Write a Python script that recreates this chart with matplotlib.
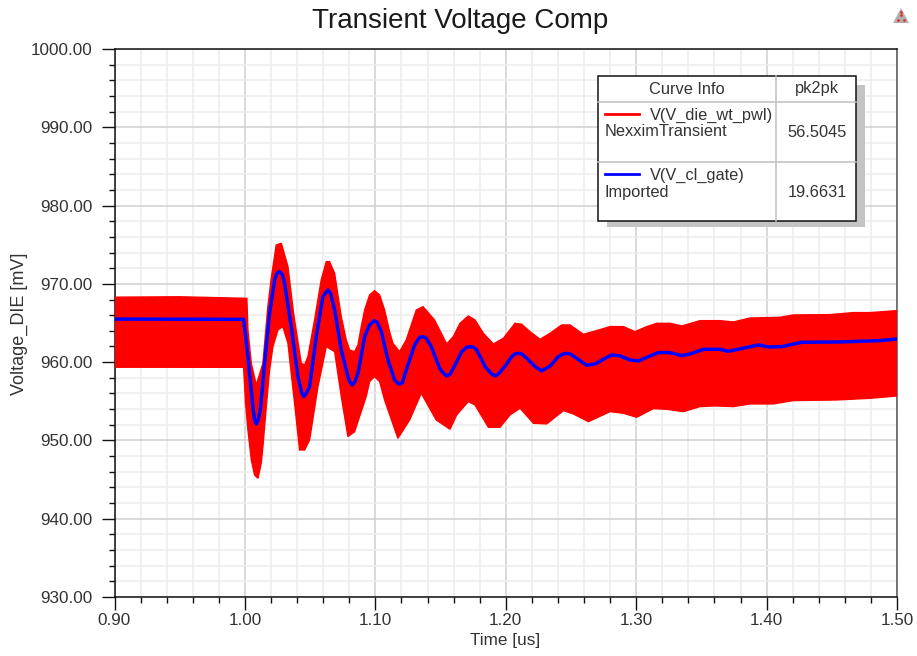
import matplotlib
matplotlib.use("Agg")
import matplotlib.pyplot as plt
from matplotlib.patches import Polygon, Rectangle
from matplotlib.ticker import MultipleLocator, FormatStrFormatter

plt.rcParams['font.family'] = ['Liberation Sans', 'DejaVu Sans']

TEXT = '#333333'

# red curve envelope
upper_t = [0.9, 0.95, 1.0015, 1.0023, 1.0049, 1.0087, 1.0138, 1.0176, 1.0202, 1.024, 1.0279, 1.033,
           1.0373, 1.0432, 1.0458, 1.0483, 1.0534, 1.0585, 1.0624, 1.0649, 1.0688, 1.0713, 1.0739, 1.0777,
           1.0803, 1.0841, 1.0867, 1.0892, 1.0918, 1.0956, 1.0994, 1.1033, 1.1071, 1.1109, 1.1135, 1.1186,
           1.1237, 1.1314, 1.1365, 1.1454, 1.1547, 1.1598, 1.1649, 1.1713, 1.1764, 1.1828, 1.1905, 1.1982,
           1.2071, 1.2122, 1.2186, 1.2263, 1.234, 1.2429, 1.2493, 1.2595, 1.2697, 1.28, 1.2902, 1.2991,
           1.3081, 1.3158, 1.326, 1.3349, 1.349, 1.3643, 1.3746, 1.3873, 1.4104, 1.4206, 1.4487, 1.4666,
           1.4794, 1.5]
upper_v = [968.3, 968.35, 968.15, 964.11, 959.85, 957.08, 959.85, 967.09, 970.71, 974.96, 975.18, 972.2,
           966.24, 959.85, 959.64, 960.7, 965.39, 970.49, 972.84, 972.84, 971.35, 968.58, 965.81, 962.83,
           961.55, 961.34, 962.19, 964.53, 966.66, 968.58, 969.13, 968.58, 966.66, 963.9, 962.41, 961.34,
           962.83, 966.66, 967.09, 965.39, 962.32, 963.26, 964.96, 965.9, 965.39, 963.69, 962.32, 963.05,
           964.96, 964.84, 963.9, 962.92, 963.69, 964.75, 964.75, 963.56, 964.03, 964.54, 964.54, 963.9,
           964.54, 964.96, 964.96, 964.62, 965.3, 965.3, 965.13, 965.64, 965.73, 966.03, 966.07, 966.33,
           966.33, 966.58]
lower_t = [0.9, 0.999, 1.0005, 1.0023, 1.0049, 1.0074, 1.01, 1.0125, 1.0138, 1.0164, 1.0189, 1.0215,
           1.0253, 1.0291, 1.033, 1.0355, 1.0381, 1.0419, 1.0458, 1.0496, 1.056, 1.0624, 1.0688,
           1.0739, 1.079, 1.0841, 1.093, 1.0956, 1.0994, 1.1033, 1.1071, 1.1173, 1.1263, 1.1352, 1.1467,
           1.1573, 1.1624, 1.1713, 1.1764, 1.1867, 1.1956, 1.2033, 1.211, 1.2212, 1.2314, 1.2442, 1.2519,
           1.2634, 1.28, 1.2902, 1.3004, 1.3132, 1.3234, 1.3362, 1.349, 1.3605, 1.3746, 1.3873,
           1.4052, 1.4206, 1.4538, 1.4794, 1.5]
lower_v = [959.35, 959.34, 954.74, 951.34, 947.51, 945.59, 945.16, 947.08, 949.21, 954.32, 959.0, 961.98,
           964.11, 964.53, 962.41, 958.57, 954.74, 948.78, 948.78, 950.06, 956.87, 961.98, 961.34,
           955.6, 950.49, 951.12, 955.6, 957.51, 958.15, 957.51, 955.17, 950.27, 952.61, 956.02, 952.61,
           951.43, 953.26, 954.96, 954.53, 951.68, 951.68, 953.26, 954.11, 952.19, 952.11, 953.81, 953.38,
           952.4, 953.68, 953.47, 952.96, 954.06, 953.98, 953.68, 954.32, 954.41, 954.32, 954.66,
           954.66, 955.09, 955.17, 955.38, 955.68]

# blue curve
gate_t = [0.9, 0.999, 1.0023, 1.0061, 1.0074, 1.0087, 1.01, 1.0118, 1.0151, 1.0189, 1.0228, 1.0245,
          1.0266, 1.0286, 1.0304, 1.0355, 1.0406, 1.0437, 1.0452, 1.047, 1.0496, 1.0547, 1.0598, 1.0616,
          1.0637, 1.0657, 1.0688, 1.0739, 1.079, 1.0803, 1.0823, 1.0844, 1.0867, 1.0918, 1.0956, 1.0974,
          1.0994, 1.1015, 1.1046, 1.1097, 1.1148, 1.1166, 1.1186, 1.1207, 1.1237, 1.1301, 1.134, 1.1365,
          1.1391, 1.1429, 1.1493, 1.1522, 1.1547, 1.1573, 1.1598, 1.1662, 1.17, 1.1726, 1.1752, 1.1777,
          1.1841, 1.1892, 1.1918, 1.1943, 1.1982, 1.2046, 1.2071, 1.2097, 1.2122, 1.2161, 1.2225, 1.2276,
          1.234, 1.2403, 1.2442, 1.2467, 1.2493, 1.2544, 1.2621, 1.2685, 1.2749, 1.2812, 1.2876, 1.2953,
          1.3017, 1.3094, 1.317, 1.326, 1.3349, 1.3413, 1.3516, 1.3643, 1.3707, 1.3784, 1.3937, 1.4014,
          1.4116, 1.427, 1.4564, 1.487, 1.5]
gate_v = [965.5, 965.47, 960.7, 954.3, 952.6, 952.1, 952.53, 953.9, 959.85, 966.24, 970.5, 971.35,
          971.56, 971.22, 970.07, 964.53, 958.15, 956.02, 955.6, 956.02, 956.87, 963.26, 968.37, 968.79,
          969.22, 968.79, 966.66, 961.55, 958.15, 957.51, 957.08, 957.51, 958.57, 963.26, 964.75, 965.05,
          965.3, 965.05, 963.9, 960.28, 957.72, 957.38, 957.2, 957.38, 959.0, 962.19, 963.17, 963.26,
          963.04, 961.98, 959.21, 958.58, 958.24, 958.45, 959.22, 961.34, 961.9, 961.98, 961.9, 961.56,
          959.43, 958.49, 958.24, 958.49, 959.22, 960.71, 961.05, 961.13, 961.05, 960.49, 959.43, 958.88,
          959.51, 960.71, 961.05, 961.13, 961.05, 960.49, 959.6, 959.77, 960.37, 960.92, 960.79, 960.28,
          960.15, 960.71, 961.22, 961.22, 960.83, 961.05, 961.64, 961.64, 961.39, 961.64, 962.2, 961.94,
          961.98, 962.54, 962.58, 962.75, 962.96]

curve_names = ['V(V_die_wt_pwl)', 'V(V_cl_gate)']
curve_sources = ['NexximTransient', 'Imported']
pk2pk = ['56.5045', '19.6631']

W, H = 917, 656
fig = plt.figure(figsize=(W / 100, H / 100), dpi=100)
ax = fig.add_axes([114.5 / W, 1 - 597 / H, (897 - 114.5) / W, (597 - 49) / H])

# merge both envelope reads onto one closed outline
ax.fill(upper_t + lower_t[::-1], upper_v + lower_v[::-1], color='#ff0000', lw=1.0, zorder=3)
ax.plot(gate_t, gate_v, color='#0000ff', lw=2.5, zorder=4, solid_joinstyle='round')

ax.set_xlim(0.9, 1.5)
ax.set_ylim(930, 1000)
ax.xaxis.set_major_locator(MultipleLocator(0.1))
ax.xaxis.set_minor_locator(MultipleLocator(0.02))
ax.yaxis.set_major_locator(MultipleLocator(10))
ax.yaxis.set_minor_locator(MultipleLocator(2))
ax.xaxis.set_major_formatter(FormatStrFormatter('%.2f'))
ax.yaxis.set_major_formatter(FormatStrFormatter('%.2f'))

ax.grid(which='major', color='#cfcfcf', lw=1.1, zorder=1)
ax.grid(which='minor', color='#ececec', lw=1.1, zorder=0)
ax.set_axisbelow(True)
ax.tick_params(which='major', length=9.5, width=1.0, color='#111111', labelsize=12.3,
               labelcolor=TEXT)
ax.tick_params(which='minor', length=4.5, width=1.0, color='#111111')
ax.tick_params(axis='x', which='major', pad=2)
ax.tick_params(axis='y', which='major', pad=6)
for side in ax.spines:
    ax.spines[side].set_linewidth(1.1)
    ax.spines[side].set_color('#111111')
ax.spines['right'].set_color('#555555')

# overlay in pixel coordinates for title, labels, curve info box and logo
ov = fig.add_axes([0, 0, 1, 1], facecolor='none')
ov.set_xlim(0, W)
ov.set_ylim(H, 0)
ov.axis('off')

ov.text(460, 21, 'Transient Voltage Comp', fontsize=20, color='#1a1a1a', ha='center', va='center')
ov.text(505, 640, 'Time [us]', fontsize=12.3, color=TEXT, ha='center', va='center')
ov.text(19, 324, 'Voltage_DIE [mV]', fontsize=13, color=TEXT, ha='center', va='center',
        rotation=90)

ov.add_patch(Rectangle((607, 85), 258, 142, fc='#c4c4c4', ec='none'))
ov.add_patch(Rectangle((598, 76), 258, 145, fc='white', ec='#111111', lw=1.1, zorder=3))
ov.plot([776, 776], [76, 221], color='#c0c0c0', lw=1.1, zorder=4)
ov.plot([598, 856], [101.7, 101.7], color='#c0c0c0', lw=1.1, zorder=4)
ov.plot([598, 856], [161.7, 161.7], color='#c0c0c0', lw=1.1, zorder=4)

LEG = 11.8
ov.text(687, 89, 'Curve Info', fontsize=LEG, color=TEXT, ha='center', va='center', zorder=5)
ov.text(817, 89, 'pk2pk', fontsize=LEG, color=TEXT, ha='center', va='center', zorder=5)
for i, colour in enumerate(['#ff0000', '#0000ff']):
    y0 = 114 + 60 * i
    ov.plot([605, 639], [y0, y0], color=colour, lw=2, zorder=5)
    ov.text(650, y0 + 1, curve_names[i], fontsize=LEG, color=TEXT, va='center', zorder=5)
    ov.text(605, y0 + 18, curve_sources[i], fontsize=LEG, color=TEXT, va='center', zorder=5)
    ov.text(817, y0 + 18.5, pk2pk[i], fontsize=LEG, color=TEXT, ha='center', va='center', zorder=5)

# logo
ov.add_patch(Polygon([(901, 8), (893, 23), (909, 23)], closed=True, fc='#b0b0b0', ec='none'))
ov.scatter([901, 898, 904, 901], [15, 20, 20, 12], s=4, color='#e03030', linewidths=0)

fig.savefig('out.png', dpi=100)
